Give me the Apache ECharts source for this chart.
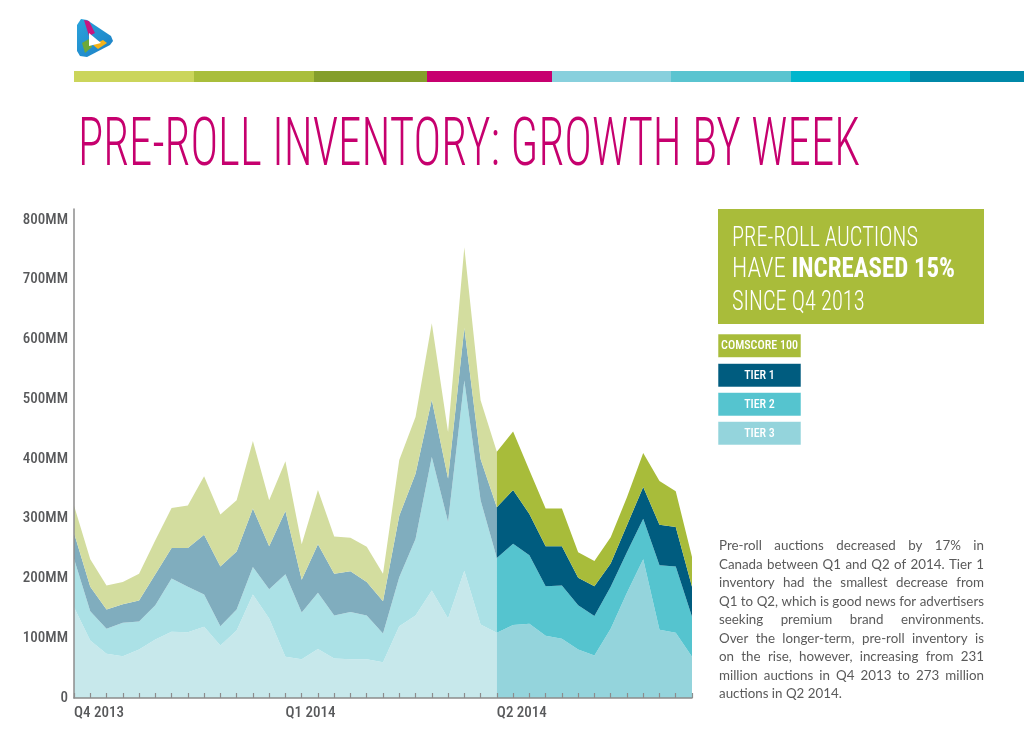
<!DOCTYPE html>
<html>
<head>
<meta charset="utf-8">
<script src="https://cdn.jsdelivr.net/npm/echarts@6/dist/echarts.min.js"></script>
<style>html,body{margin:0;padding:0;background:#fff}#chart{width:1024px;height:749px}</style>
</head>
<body>
<div id="chart"></div>
<script>
// ---------------- data ----------------
const quarterLabels = ["Q4 2013", "Q1 2014", "Q2 2014"];
const weeksPerQuarter = 13;
const q2StartIndex = 26;
const comscore100 = [46,46,40,37,45,57,67,71,98,87,86,113,77,83,59,91,62,56,59,46,93,95,128,78,135,98,93,98,73,63,63,43,42,44,47,57,73,60,50];
const tier1 = [43,41,32,31,35,52,51,65,100,100,97,98,72,106,55,81,70,68,56,54,103,109,96,72,88,69,85,90,69,67,66,46,50,39,45,53,68,66,50];
const tier2 = [81,49,42,56,47,57,89,76,54,32,35,46,49,138,78,94,72,79,73,48,82,128,223,162,318,208,125,136,115,83,89,74,66,70,68,68,108,111,67];
const tier3 = [152,96,74,70,81,98,111,110,119,88,113,173,133,69,65,82,66,65,65,60,120,138,180,133,213,123,109,122,124,104,99,81,71,116,176,232,114,109,69];
const legendNames = ["COMSCORE 100", "TIER 1", "TIER 2", "TIER 3"];
const titleText = "PRE-ROLL INVENTORY: GROWTH BY WEEK";
const paragraphLines = [
  "Pre-roll auctions decreased by 17% in",
  "Canada between Q1 and Q2 of 2014. Tier 1",
  "inventory had the smallest decrease from",
  "Q1 to Q2, which is good news for advertisers",
  "seeking premium brand environments.",
  "Over the longer-term, pre-roll inventory is",
  "on the rise, however, increasing from 231",
  "million auctions in Q4 2013 to 273 million",
  "auctions in Q2 2014."
];

// ---------------- styles ----------------
const paleColors = { "TIER 3": "#c7e8eb", "TIER 2": "#abe1e6", "TIER 1": "#80adbe", "COMSCORE 100": "#d3dd9f" };
const strongColors = { "TIER 3": "#94d4dc", "TIER 2": "#55c4cf", "TIER 1": "#005c7f", "COMSCORE 100": "#a8bc3a" };
const barColors = ["#cbd55b","#a9be3b","#849e2b","#c7006f","#88d0dd","#5ac4d0","#00b6cd","#0088a8"];
const COND = 'Roboto Condensed';

const mctx = document.createElement('canvas').getContext('2d');
function measure(text, font) { mctx.font = font; return mctx.measureText(text).width; }

// ---------------- build series ----------------
const weekCount = tier3.length;
const categories = Array.from({ length: weekCount }, (_, i) =>
  i % weeksPerQuarter === 0 ? quarterLabels[i / weeksPerQuarter] : '');
const layers = [["TIER 3", tier3], ["TIER 2", tier2], ["TIER 1", tier1], ["COMSCORE 100", comscore100]];
function slice(arr, from, to) { return arr.map((v, i) => (i >= from && i <= to) ? v : '-'); }
const series = [];
layers.forEach(([name, arr]) => {
  series.push({
    name: name, type: 'line', stack: 'earlier', data: slice(arr, 0, q2StartIndex),
    showSymbol: false, symbol: 'none', lineStyle: { width: 0 },
    areaStyle: { color: paleColors[name], opacity: 1 }, silent: true, z: 2
  });
});
layers.forEach(([name, arr]) => {
  series.push({
    name: name + ' Q2', type: 'line', stack: 'q2', data: slice(arr, q2StartIndex, weekCount - 1),
    showSymbol: false, symbol: 'none', lineStyle: { width: 0 },
    areaStyle: { color: strongColors[name], opacity: 1 }, silent: true, z: 2
  });
});

// ---------------- graphics ----------------
const graphics = [];
// logo
graphics.push({ type: 'polygon', shape: { points: [[77,25],[81,19],[87,20],[111,36],[113,41],[110,45],[87,57],[80,56],[77,51]] },
  style: { fill: new echarts.graphic.LinearGradient(0,0,1,1,[{offset:0,color:'#2aa3dc'},{offset:1,color:'#1c7fc4'}]) } });
graphics.push({ type: 'polygon', shape: { points: [[84,20],[89,21],[95,33],[89,36]] }, style: { fill: '#c8157f' } });
graphics.push({ type: 'polygon', shape: { points: [[82,43],[89,39],[92,47],[85,53]] }, style: { fill: '#6ea83a' } });
graphics.push({ type: 'polygon', shape: { points: [[93,45],[103,40],[107,43],[98,49]] }, style: { fill: '#f5b318' } });
graphics.push({ type: 'polygon', shape: { points: [[89,33],[89,46],[101,43]] }, style: { fill: '#ffffff' } });
// color bar
const barX = [74,194,314,427,552,671,791,910,1024];
barColors.forEach((c, i) => graphics.push({ type: 'rect', shape: { x: barX[i], y: 71, width: barX[i+1] - barX[i], height: 11 }, style: { fill: c } }));
// title
const titleFontSize = 66;
const tW = measure(titleText, '300 ' + titleFontSize + 'px "' + COND + '"');
graphics.push({ type: 'text', x: 78, y: 148.5, scaleX: 782 / tW, scaleY: 1,
  style: { text: titleText, fill: '#c6006e', fontFamily: COND, fontWeight: 300, fontSize: titleFontSize, align: 'left', verticalAlign: 'middle' } });
// green callout box
graphics.push({ type: 'rect', shape: { x: 718, y: 209, width: 266, height: 115 }, style: { fill: '#a9bc3a' } });
const boxFs = 27;
const l1W = measure("PRE-ROLL AUCTIONS", '300 ' + boxFs + 'px "' + COND + '"');
const boxScale = 186 / l1W;
const l2W = measure("HAVE ", '300 ' + boxFs + 'px "' + COND + '"') + measure("INCREASED 15%", '700 ' + boxFs + 'px "' + COND + '"');
const l2Scale = 223 / l2W;
graphics.push({ type: 'text', x: 732, y: 239, scaleX: boxScale,
  style: { text: "PRE-ROLL AUCTIONS", fill: '#fff', fontFamily: COND, fontWeight: 300, fontSize: boxFs, verticalAlign: 'middle' } });
graphics.push({ type: 'text', x: 732, y: 270, scaleX: l2Scale,
  style: { text: "{a|HAVE }{b|INCREASED 15%}", fill: '#fff', verticalAlign: 'middle',
    rich: { a: { fontFamily: COND, fontWeight: 300, fontSize: boxFs, fill: '#fff' },
            b: { fontFamily: COND, fontWeight: 700, fontSize: boxFs, fill: '#fff' } } } });
graphics.push({ type: 'text', x: 732, y: 303.5, scaleX: boxScale,
  style: { text: "SINCE Q4 2013", fill: '#fff', fontFamily: COND, fontWeight: 300, fontSize: boxFs, verticalAlign: 'middle' } });
// legend boxes
const legendY = [334, 363.5, 392.5, 421.5];
legendNames.forEach((n, i) => {
  graphics.push({ type: 'rect', shape: { x: 718, y: legendY[i], width: 83, height: 23.5 },
    style: { fill: strongColors[n], stroke: 'rgba(255,255,255,0.55)', lineWidth: 1 } });
  graphics.push({ type: 'text', x: 759.5, y: legendY[i] + 12,
    style: { text: n, fill: '#fff', fontFamily: COND, fontWeight: 500, fontSize: 12, align: 'center', verticalAlign: 'middle' } });
});
// paragraph (justified)
const pLeft = 719, pRight = 984, pTop = 545.7, pLH = 18.55;
const pFamily = 'Lato';
let pFs = 14;
const widest = Math.max(...paragraphLines.map(l => measure(l, pFs + 'px ' + pFamily)));
if (widest > pRight - pLeft) pFs = pFs * (pRight - pLeft) / widest;
const pFont = pFs + 'px ' + pFamily;
paragraphLines.forEach((line, li) => {
  const y = pTop + li * pLH;
  const words = line.split(' ');
  const last = li === paragraphLines.length - 1;
  const wordsW = words.map(w => measure(w, pFont));
  const spaceW = measure(' ', pFont);
  const gap = last || words.length < 2 ? spaceW : ((pRight - pLeft) - wordsW.reduce((a, b) => a + b, 0)) / (words.length - 1);
  let x = pLeft;
  words.forEach((w, wi) => {
    graphics.push({ type: 'text', x: x, y: y,
      style: { text: w, fill: '#5a5a5a', fontFamily: pFamily, fontSize: pFs, align: 'left', verticalAlign: 'middle' } });
    x += wordsW[wi] + gap;
  });
});

// ---------------- chart ----------------
const chart = echarts.init(document.getElementById('chart'), null, { renderer: 'canvas' });
chart.setOption({
  animation: false,
  backgroundColor: '#ffffff',
  grid: { left: 74, right: 332, top: 209, bottom: 51, containLabel: false },
  xAxis: {
    type: 'category', data: categories, boundaryGap: false, z: 5,
    axisLine: { show: true, lineStyle: { color: '#8c8c8c', width: 1.5 } },
    axisTick: { show: true, inside: true, length: 5, interval: 0, lineStyle: { color: '#8c8c8c', width: 1.2 } },
    axisLabel: { show: true, interval: 0, align: 'left', verticalAlign: 'middle', margin: 15,
      color: '#58595b', fontFamily: COND, fontSize: 15, fontWeight: 500 },
    splitLine: { show: false }
  },
  yAxis: {
    type: 'value', min: 0, max: 818, interval: 100, z: 5,
    axisLine: { show: true, lineStyle: { color: '#8c8c8c', width: 1.5 } },
    axisTick: { show: false },
    splitLine: { show: false },
    axisLabel: { margin: 6, color: '#58595b', fontFamily: COND, fontSize: 15, fontWeight: 500,
      formatter: v => (v % 100 !== 0 ? '' : (v === 0 ? '0' : v + 'MM')) }
  },
  series: series,
  graphic: graphics
});
</script>
</body>
</html>
